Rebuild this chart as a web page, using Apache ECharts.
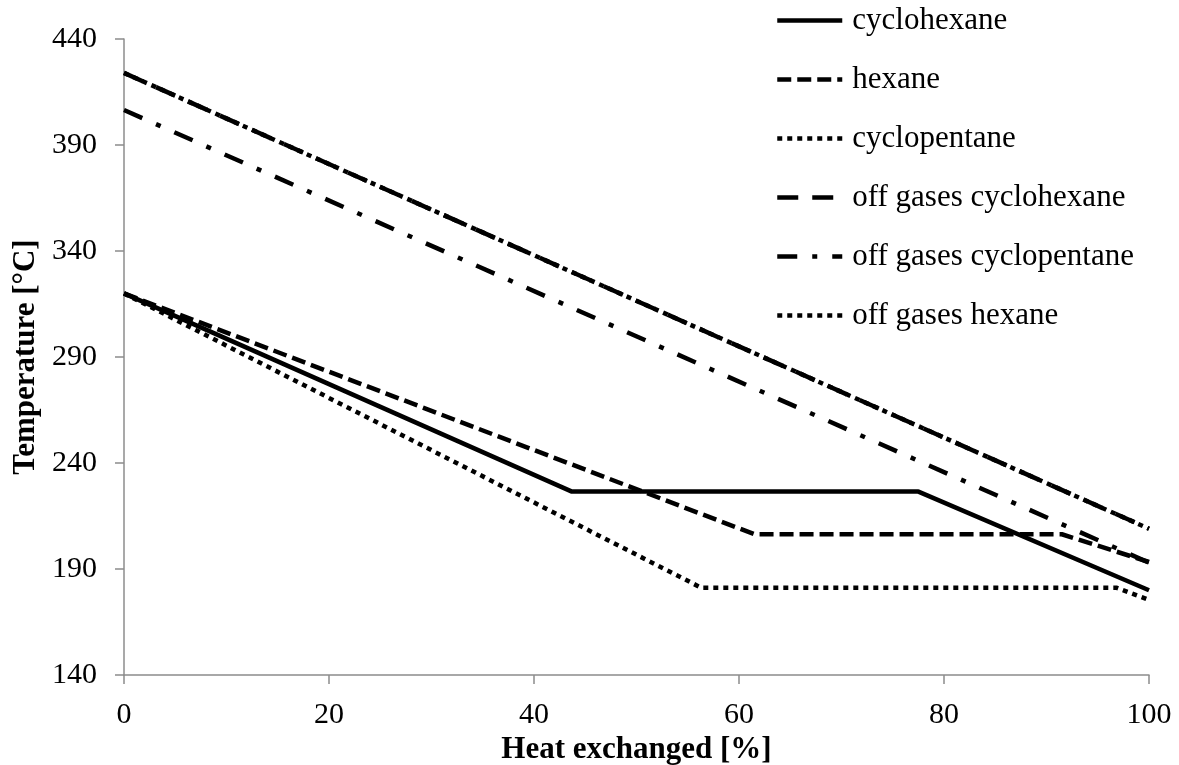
<!DOCTYPE html>
<html>
<head>
<meta charset="utf-8">
<script src="https://cdn.jsdelivr.net/npm/echarts@6/dist/echarts.min.js"></script>
<style>
html,body{margin:0;padding:0;background:#fff;}
#chart{width:1179px;height:765px;}
</style>
</head>
<body>
<div id="chart"></div>
<script>
// ---- data ----
const seriesNames = ['cyclohexane', 'hexane', 'cyclopentane', 'off gases cyclohexane', 'off gases cyclopentane', 'off gases hexane'];
const cyclohexaneX = [0, 43.7, 77.5, 100];
const cyclohexaneY = [320, 226.5, 226.5, 180];
const hexaneX = [0, 61.5, 91.5, 100];
const hexaneY = [320, 206.4, 206.4, 193.3];
const cyclopentaneX = [0, 56.3, 96.8, 100];
const cyclopentaneY = [320, 181.2, 181.2, 175.4];
const offCyclohexaneX = [0, 100];
const offCyclohexaneY = [424, 209];
const offCyclopentaneX = [0, 100];
const offCyclopentaneY = [406.5, 193];
const offHexaneX = [0, 100];
const offHexaneY = [424, 209];
const xTicks = [0, 20, 40, 60, 80, 100];
const yTicks = [140, 190, 240, 290, 340, 390, 440];

function pairs(xs, ys) { return xs.map((x, i) => [x, ys[i]]); }

const FONT = "'Liberation Serif', 'Times New Roman', serif";
const AXIS_GRAY = '#8c8c8c';

const styles = [
  { type: 'solid', width: 4.5 },
  { type: [14, 6], width: 4.5 },
  { type: [5, 5], width: 4.5 },
  { type: [21, 14], width: 4.5 },
  { type: [20, 15, 5, 15], width: 4.5 },
  { type: [5, 5], width: 4.5 }
];
const datasets = [
  pairs(cyclohexaneX, cyclohexaneY),
  pairs(hexaneX, hexaneY),
  pairs(cyclopentaneX, cyclopentaneY),
  pairs(offCyclohexaneX, offCyclohexaneY),
  pairs(offCyclopentaneX, offCyclopentaneY),
  pairs(offHexaneX, offHexaneY)
];

const chart = echarts.init(document.getElementById('chart'), null, { renderer: 'canvas' });
chart.setOption({
  animation: false,
  backgroundColor: '#fff',
  grid: { left: 124, right: 30, top: 39, bottom: 90, containLabel: false, outerBoundsMode: 'none' },
  legend: {
    orient: 'vertical',
    left: 770,
    top: 0,
    itemWidth: 65,
    itemHeight: 14,
    itemGap: 28,
    data: seriesNames,
    itemStyle: { color: 'rgba(0,0,0,0)', borderWidth: 0, opacity: 0 },
    lineStyle: { width: 4.5 },
    textStyle: { fontFamily: FONT, fontSize: 31, color: '#000', padding: [0, 0, 0, 5] }
  },
  xAxis: {
    type: 'value',
    min: xTicks[0],
    max: xTicks[xTicks.length - 1],
    interval: xTicks[1] - xTicks[0],
    name: 'Heat exchanged [%]',
    nameLocation: 'middle',
    nameGap: 56,
    nameTextStyle: { fontFamily: FONT, fontSize: 31, fontWeight: 'bold', color: '#000' },
    axisLine: { show: true, lineStyle: { color: AXIS_GRAY, width: 1.5 } },
    axisTick: { show: true, length: 9, lineStyle: { color: AXIS_GRAY, width: 1.5 } },
    axisLabel: { fontFamily: FONT, fontSize: 30, color: '#000', margin: 25 },
    splitLine: { show: false }
  },
  yAxis: {
    type: 'value',
    min: yTicks[0],
    max: yTicks[yTicks.length - 1],
    interval: yTicks[1] - yTicks[0],
    name: 'Temperature [°C]',
    nameLocation: 'middle',
    nameGap: 80,
    nameTextStyle: { fontFamily: FONT, fontSize: 31, fontWeight: 'bold', color: '#000' },
    axisLine: { show: true, lineStyle: { color: AXIS_GRAY, width: 1.5 } },
    axisTick: { show: true, length: 9, lineStyle: { color: AXIS_GRAY, width: 1.5 } },
    axisLabel: { fontFamily: FONT, fontSize: 30, color: '#000', margin: 27 },
    splitLine: { show: false }
  },
  series: seriesNames.map((name, i) => ({
    name: name,
    type: 'line',
    data: datasets[i],
    symbol: 'none',
    showSymbol: false,
    itemStyle: { color: 'rgba(0,0,0,0)' },
    lineStyle: { color: '#000', width: styles[i].width, type: styles[i].type, cap: 'butt' }
  }))
});
</script>
</body>
</html>
